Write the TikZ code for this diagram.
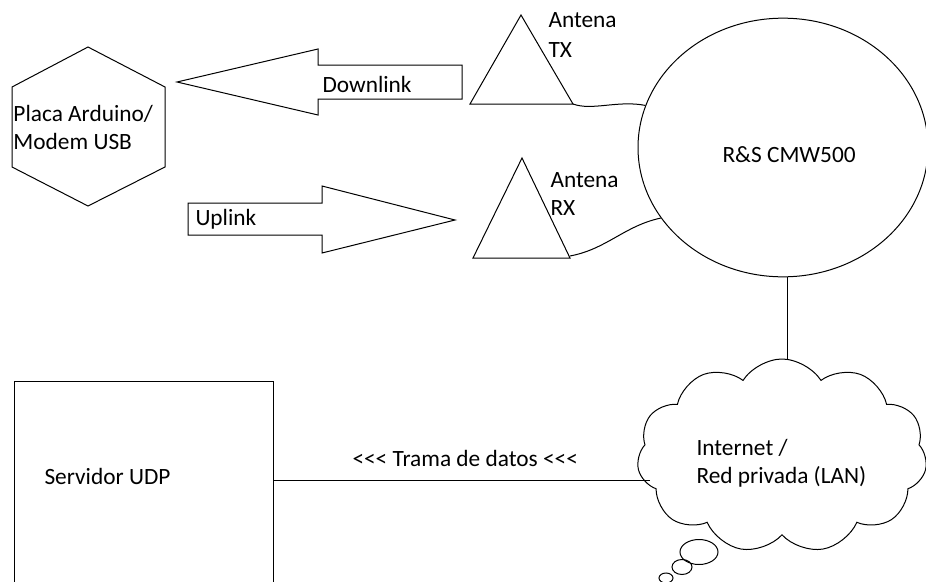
\documentclass[tikz,border=0pt]{standalone}
\usepackage{fontspec}
\setmainfont{Carlito}[Ligatures=TeXOff]
\usetikzlibrary{shapes.geometric,shapes.symbols}
\begin{document}
\begin{tikzpicture}[x=0.75pt,y=-0.75pt,line width=0.75pt]

\tikzstyle{lbl}=[inner sep=0pt,anchor=base west,align=left,font=\fontsize{17.5}{21}\selectfont]
\tikzstyle{shp}=[draw,line width=0.75pt]

\useasboundingbox (0,0) rectangle (926,582);
\clip (0,0) rectangle (926,582);

\draw[shp] (88,47) -- (165,87) -- (165,167) -- (88,206) -- (12,167) -- (12,87) -- cycle;
\node[lbl] (placa) at (13,149) {Placa Arduino/\\Modem USB};

\draw[shp] (177,82) -- (318,49) -- (318,65) -- (462,65) -- (462,99) -- (318,99) -- (318,115) -- cycle;
\node[lbl] (down) at (322,92) {Downlink};
\draw[shp] (188,203) -- (322,203) -- (322,186) -- (455,220) -- (322,253) -- (322,235) -- (188,235) -- cycle;
\node[lbl] (up) at (195,225) {Uplink};

\draw[shp] (521,15) -- (573,104) -- (470,104) -- cycle;
\coordinate (txfoot) at (573,104);
\node[lbl] (tx) at (548,57) {Antena\\[1.5pt]TX};
\draw[shp] (522,158) -- (570,258) -- (473,258) -- cycle;
\coordinate (rxfoot) at (570,256);
\node[lbl] (rx) at (550,215) {Antena\\RX};

\node[shp,ellipse,minimum width=217.5pt,minimum height=194pt,inner sep=0pt] (cmw) at (783,147.5) {};
\node[lbl] (cmwtxt) at (722,162) {R\&S CMW500};
\draw (txfoot) .. controls (592,111) and (618,100) .. (cmw.163);
\draw (rxfoot) .. controls (607,249) and (624,226) .. (cmw.210);

\node[shp,cloud,cloud puffs=11,cloud puff arc=115,aspect=1.5,minimum width=217.5pt,minimum height=145.5pt,inner sep=0pt] (net) at (782,456) {};
\node[lbl] (nettxt) at (696,483) {Internet /\\Red privada (LAN)};
\draw[shp] (699,552) ellipse [x radius=19,y radius=12.5];
\draw[shp] (682,567) ellipse [x radius=10,y radius=7.5];
\draw[shp] (666,578) ellipse [x radius=7,y radius=5];
\draw ([xshift=3pt]cmw.south) -- ([xshift=3pt]cmw.south |- net.north);

\node[shp,minimum width=194.25pt,minimum height=165pt,inner sep=0pt,anchor=north west] (udp) at (14,381) {};
\node[lbl] (udptxt) at (44,484) {Servidor UDP};
\coordinate (lanin) at (650,480);
\draw (udp.east |- lanin) -- (lanin);
\node[lbl] (trama) at (352,466) {<<< Trama de datos <<<};

\end{tikzpicture}
\end{document}
